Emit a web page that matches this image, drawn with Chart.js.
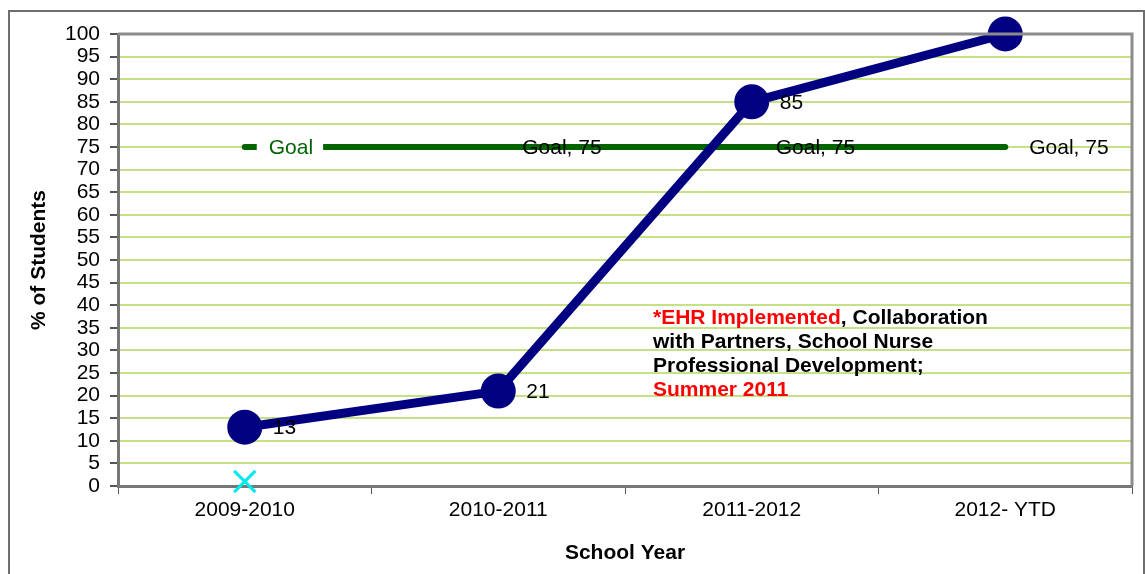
<!DOCTYPE html>
<html>
<head>
<meta charset="utf-8">
<script src="https://cdn.jsdelivr.net/npm/chart.js@4.4.0/dist/chart.umd.min.js"></script>
<style>
    html, body { margin: 0; padding: 0; background: #fff; overflow: hidden; }
    #chart { display: block; }
</style>
</head>
<body>
<canvas id="chart" width="1145" height="574"></canvas>
<script>
// data
var years = ["2009-2010", "2010-2011", "2011-2012", "2012- YTD"];
var students = [13, 21, 85, 100];
var studentLabels = ["13", "21", "85", null];
var goal = [75, 75, 75, 75];
var goalLabels = ["Goal", "Goal, 75", "Goal, 75", "Goal, 75"];
var baseline = [1, null, null, null];
var yTicks = [0, 5, 10, 15, 20, 25, 30, 35, 40, 45, 50, 55, 60, 65, 70, 75, 80, 85, 90, 95, 100];
var note = [
    [["*EHR Implemented", "#ff0000"], [", Collaboration", "#000"]],
    [["with Partners, School Nurse", "#000"]],
    [["Professional Development;", "#000"]],
    [["Summer 2011", "#ff0000"]]
];

var FONT = "'Liberation Sans', Arial, sans-serif";

// frame + outer border
var framePlugin = {
    id: 'frame',
    beforeDraw: function (chart) {
        var ctx = chart.ctx;
        ctx.save();
        ctx.fillStyle = '#fff';
        ctx.fillRect(0, 0, chart.width, chart.height);
        ctx.strokeStyle = '#6e6e6e';
        ctx.lineWidth = 2;
        ctx.strokeRect(9, 11, chart.width - 10, chart.height + 20);
        ctx.restore();
    },
    afterDatasetsDraw: function (chart) {
        var a = chart.chartArea, ctx = chart.ctx;
        ctx.save();
        ctx.strokeStyle = '#8c8c8c';
        ctx.lineWidth = 3;
        ctx.beginPath();
        ctx.moveTo(a.left, a.top);
        ctx.lineTo(a.right, a.top);
        ctx.lineTo(a.right, a.bottom);
        ctx.stroke();
        ctx.restore();
    }
};

// data labels + note text
var labelPlugin = {
    id: 'labels',
    afterDraw: function (chart) {
        var ctx = chart.ctx;
        ctx.save();
        ctx.font = '21px ' + FONT;
        ctx.textBaseline = 'middle';
        ctx.textAlign = 'left';

        var goalMeta = chart.getDatasetMeta(1);
        goalMeta.data.forEach(function (pt, i) {
            var txt = goalLabels[i];
            if (!txt) return;
            if (i == 0) {
                var w = ctx.measureText(txt).width;
                ctx.fillStyle = '#fff';
                ctx.fillRect(pt.x + 12, pt.y - 11, w + 22, 22);
                ctx.fillStyle = '#006400';
            } else {
                ctx.fillStyle = '#000';
            }
            ctx.fillText(txt, pt.x + 24, pt.y + 1);
        });

        var meta = chart.getDatasetMeta(0);
        meta.data.forEach(function (pt, i) {
            var txt = studentLabels[i];
            if (!txt) return;
            ctx.fillStyle = '#000';
            ctx.fillText(txt, pt.x + 28, pt.y + 1);
        });

        ctx.font = 'bold 21px ' + FONT;
        var x0 = 653, y0 = 318;
        note.forEach(function (line, i) {
            var x = x0;
            line.forEach(function (part) {
                ctx.fillStyle = part[1];
                ctx.fillText(part[0], x, y0 + i * 24);
                x += ctx.measureText(part[0]).width;
            });
        });
        ctx.restore();
    }
};

var ctx = document.getElementById('chart');
var myChart = new Chart(ctx, {
    type: 'line',
    data: {
        labels: years,
        datasets: [{
            label: 'Students',
            data: students,
            borderColor: '#000080',
            backgroundColor: '#000080',
            borderWidth: 9,
            pointRadius: 13,
            pointHoverRadius: 13,
            clip: false,
            order: 0
        }, {
            label: 'Goal',
            data: goal,
            borderColor: '#006400',
            backgroundColor: '#006400',
            borderWidth: 6,
            borderCapStyle: 'round',
            pointRadius: 0,
            order: 1
        }, {
            label: 'Baseline',
            data: baseline,
            showLine: false,
            pointStyle: 'crossRot',
            pointRadius: 15,
            borderWidth: 3,
            borderColor: '#00e8f0',
            clip: false,
            order: 2
        }]
    },
    options: {
        responsive: false,
        animation: false,
        devicePixelRatio: 1,
        layout: { autoPadding: false, padding: { top: 34, right: 13, left: 0, bottom: 0 } },
        plugins: {
            legend: { display: false },
            tooltip: { enabled: false }
        },
        scales: {
            x: {
                offset: true,
                grid: {
                    offset: true,
                    drawOnChartArea: false,
                    tickLength: 8,
                    tickColor: '#555'
                },
                border: { color: '#777', width: 3 },
                ticks: {
                    color: '#000',
                    padding: 4,
                    maxRotation: 0,
                    font: { family: FONT, size: 21 }
                },
                title: {
                    display: true,
                    text: 'School Year',
                    color: '#000',
                    font: { family: FONT, size: 21, weight: 'bold' },
                    padding: { top: 0, bottom: 8 }
                },
                afterFit: function (scale) {
                    scale.height = 88;
                    scale.paddingLeft = 0;
                    scale.paddingRight = 0;
                }
            },
            y: {
                min: 0,
                max: 100,
                afterBuildTicks: function (scale) {
                    scale.ticks = yTicks.map(function (v) { return { value: v }; });
                },
                grid: {
                    color: function (c) {
                        return (c.tick && (c.tick.value == 0 || c.tick.value == 100)) ? 'rgba(0,0,0,0)' : '#c4e184';
                    },
                    lineWidth: 2,
                    tickLength: 8,
                    tickColor: '#555'
                },
                border: { color: '#777', width: 3 },
                ticks: {
                    color: '#000',
                    padding: 10,
                    autoSkip: false,
                    font: { family: FONT, size: 21 }
                },
                title: {
                    display: true,
                    text: '% of Students',
                    color: '#000',
                    font: { family: FONT, size: 21, weight: 'bold' },
                    padding: { top: 27, bottom: 0 }
                },
                afterFit: function (scale) {
                    scale.width = 118;
                    scale.paddingTop = 0;
                    scale.paddingBottom = 0;
                }
            }
        }
    },
    plugins: [framePlugin, labelPlugin]
});
</script>
</body>
</html>
